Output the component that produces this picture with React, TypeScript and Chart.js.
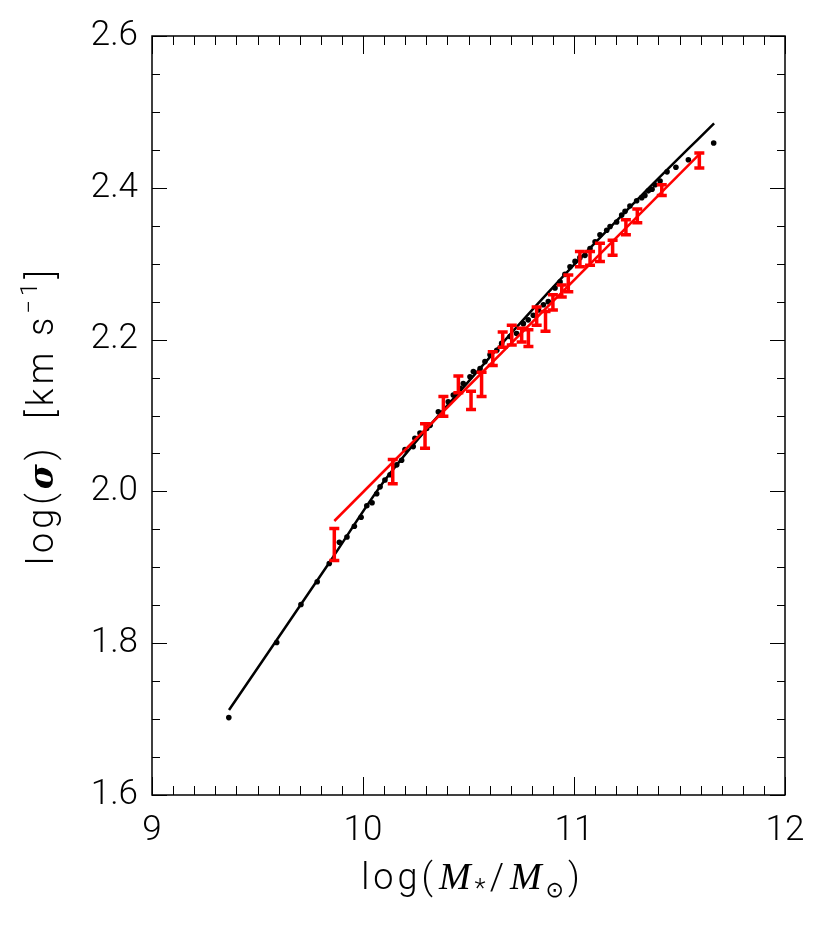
import { useEffect, useRef } from 'react';
import { Chart, registerables } from 'chart.js';

Chart.register(...registerables);

// Black points (running medians)
const blackX = [9.364, 9.591, 9.706, 9.783, 9.840, 9.888, 9.924, 9.959, 9.991, 10.018, 10.043, 10.065, 10.081, 10.104, 10.128, 10.160, 10.183, 10.199, 10.238, 10.246, 10.270, 10.302, 10.318, 10.357, 10.404, 10.428, 10.460, 10.475, 10.507, 10.523, 10.555, 10.578, 10.602, 10.634, 10.657, 10.697, 10.728, 10.760, 10.783, 10.807, 10.831, 10.855, 10.878, 10.910, 10.934, 10.957, 10.981, 11.005, 11.028, 11.052, 11.076, 11.100, 11.123, 11.155, 11.171, 11.202, 11.226, 11.242, 11.265, 11.297, 11.321, 11.336, 11.352, 11.370, 11.384, 11.408, 11.441, 11.483, 11.542, 11.662];
const blackY = [1.702, 1.801, 1.851, 1.881, 1.905, 1.933, 1.940, 1.954, 1.966, 1.981, 1.985, 1.997, 2.006, 2.015, 2.022, 2.035, 2.041, 2.055, 2.059, 2.070, 2.077, 2.083, 2.087, 2.105, 2.118, 2.127, 2.136, 2.142, 2.151, 2.158, 2.162, 2.171, 2.180, 2.186, 2.195, 2.204, 2.208, 2.221, 2.226, 2.232, 2.239, 2.246, 2.250, 2.268, 2.276, 2.286, 2.296, 2.303, 2.308, 2.311, 2.320, 2.329, 2.338, 2.344, 2.349, 2.355, 2.364, 2.369, 2.376, 2.383, 2.387, 2.390, 2.396, 2.398, 2.404, 2.409, 2.421, 2.427, 2.437, 2.459];

// Black fit curve
const blackFitX = [9.365, 9.84, 10.104, 10.507, 10.934, 11.313, 11.664];
const blackFitY = [1.712, 1.906, 2.015, 2.147, 2.279, 2.388, 2.485];

// Red binned points with errors
const redX = [9.864, 10.141, 10.294, 10.381, 10.452, 10.512, 10.562, 10.615, 10.662, 10.705, 10.752, 10.784, 10.823, 10.865, 10.900, 10.942, 10.973, 11.028, 11.076, 11.123, 11.183, 11.246, 11.300, 11.416, 11.594];
const redY = [1.930, 2.026, 2.073, 2.112, 2.141, 2.120, 2.141, 2.175, 2.200, 2.206, 2.206, 2.202, 2.231, 2.224, 2.249, 2.264, 2.274, 2.306, 2.307, 2.315, 2.321, 2.348, 2.363, 2.397, 2.436];
const redErr = [0.021, 0.016, 0.016, 0.013, 0.011, 0.012, 0.016, 0.009, 0.010, 0.013, 0.009, 0.011, 0.012, 0.013, 0.010, 0.008, 0.011, 0.010, 0.009, 0.012, 0.010, 0.010, 0.009, 0.007, 0.010];

// Red fit line
const redFitX = [9.864, 11.597];
const redFitY = [1.961, 2.445];

// Axis ranges / ticks
const xMin = 9, xMax = 12, xMajor = 1, xMinor = 0.1;
const yMin = 1.6, yMax = 2.6, yMajor = 0.2, yMinor = 0.05;

const SANS = 'Roboto, "Liberation Sans", Arial, sans-serif';
const SERIF = '"Liberation Serif", "DejaVu Serif", serif';

const framePlugin = {
  id: 'frameTicks',
  afterDraw(chart: any) {
    const { ctx, chartArea, scales } = chart;
    const { left, right, top, bottom } = chartArea;
    const xs = scales.x, ys = scales.y;
    ctx.save();
    ctx.strokeStyle = '#000';
    ctx.lineWidth = 1.5;
    ctx.strokeRect(left, top, right - left, bottom - top);
    ctx.lineWidth = 1;
    const nx = Math.round((xMax - xMin) / xMinor);
    const perMajX = Math.round(xMajor / xMinor);
    for (let i = 0; i <= nx; i++) {
      const px = Math.round(xs.getPixelForValue(xMin + i * xMinor)) + 0.5;
      const len = i % perMajX === 0 ? 18 : 9;
      ctx.beginPath();
      ctx.moveTo(px, bottom); ctx.lineTo(px, bottom - len);
      ctx.moveTo(px, top); ctx.lineTo(px, top + len);
      ctx.stroke();
    }
    const ny = Math.round((yMax - yMin) / yMinor);
    const perMajY = Math.round(yMajor / yMinor);
    for (let i = 0; i <= ny; i++) {
      const py = Math.round(ys.getPixelForValue(yMin + i * yMinor)) + 0.5;
      const len = i % perMajY === 0 ? 15 : 8;
      ctx.beginPath();
      ctx.moveTo(left, py); ctx.lineTo(left + len, py);
      ctx.moveTo(right, py); ctx.lineTo(right - len, py);
      ctx.stroke();
    }
    ctx.restore();
  },
};

const errorBarPlugin = {
  id: 'errorBars',
  afterDatasetsDraw(chart: any) {
    const { ctx, scales } = chart;
    const xs = scales.x, ys = scales.y;
    ctx.save();
    ctx.strokeStyle = '#ff0000';
    ctx.lineWidth = 3.5;
    for (let i = 0; i < redX.length; i++) {
      const px = xs.getPixelForValue(redX[i]);
      const y1 = ys.getPixelForValue(redY[i] - redErr[i]);
      const y2 = ys.getPixelForValue(redY[i] + redErr[i]);
      ctx.beginPath();
      ctx.moveTo(px, y1); ctx.lineTo(px, y2);
      ctx.moveTo(px - 5, y1); ctx.lineTo(px + 5, y1);
      ctx.moveTo(px - 5, y2); ctx.lineTo(px + 5, y2);
      ctx.stroke();
    }
    ctx.restore();
  },
};

type Piece = { t: string; font: string; dy?: number; gap?: number };

function drawPieces(ctx: CanvasRenderingContext2D, pieces: Piece[], cx: number, baseline: number) {
  let total = 0;
  const widths = pieces.map(p => { ctx.font = p.font; const w = ctx.measureText(p.t).width + (p.gap || 0); total += w; return w; });
  let x = cx - total / 2;
  pieces.forEach((p, i) => {
    ctx.font = p.font;
    ctx.fillText(p.t, x, baseline + (p.dy || 0));
    x += widths[i];
  });
}

const titlePlugin = {
  id: 'axisTitles',
  afterDraw(chart: any) {
    const { ctx, chartArea } = chart;
    const { left, right, top, bottom } = chartArea;
    ctx.save();
    ctx.fillStyle = '#000';
    ctx.textBaseline = 'alphabetic';
    ctx.textAlign = 'left';
    (ctx as any).letterSpacing = '4px';
    // x title
    drawPieces(ctx, [
      { t: 'log(', font: `300 36px ${SANS}`, gap: 2 },
      { t: 'M', font: `italic 38px ${SERIF}` },
      { t: '*', font: `300 26px ${SANS}`, dy: 8 },
      { t: '/', font: `300 36px ${SANS}`, gap: 2 },
      { t: 'M', font: `italic 38px ${SERIF}` },
      { t: '⊙', font: `22px "DejaVu Sans"`, dy: 8 },
      { t: ')', font: `300 36px ${SANS}` },
    ], (left + right) / 2 + 4, 889);
    // y title
    ctx.translate(53, (top + bottom) / 2);
    ctx.rotate(-Math.PI / 2);
    drawPieces(ctx, [
      { t: 'log(', font: `300 36px ${SANS}` },
      { t: 'σ', font: `bold italic 34px "DejaVu Serif"` },
      { t: ')  [km s', font: `300 36px ${SANS}` },
      { t: '−1', font: `300 24px ${SANS}`, dy: -16 },
      { t: ']', font: `300 36px ${SANS}` },
    ], 0, 0);
    ctx.restore();
  },
};

export default function App() {
  const ref = useRef<HTMLCanvasElement | null>(null);
  useEffect(() => {
    if (!ref.current) return;
    const chart = new Chart(ref.current, {
      type: 'scatter',
      data: {
        datasets: [
          {
            data: redFitX.map((x, i) => ({ x, y: redFitY[i] })),
            showLine: true,
            borderColor: '#ff0000',
            borderWidth: 2.5,
            pointRadius: 0,
            order: 0,
          },
          {
            data: blackX.map((x, i) => ({ x, y: blackY[i] })),
            showLine: false,
            backgroundColor: '#000',
            borderWidth: 0,
            pointRadius: 2.8,
            order: 1,
          },
          {
            data: blackFitX.map((x, i) => ({ x, y: blackFitY[i] })),
            showLine: true,
            borderColor: '#000',
            borderWidth: 2.5,
            pointRadius: 0,
            cubicInterpolationMode: 'monotone',
            order: 2,
          },
        ],
      } as any,
      options: {
        animation: false,
        responsive: false,
        layout: { padding: { top: 36, right: 45, left: 0, bottom: 0 } },
        plugins: { legend: { display: false }, tooltip: { enabled: false }, title: { display: false } },
        scales: {
          x: {
            type: 'linear',
            min: xMin,
            max: xMax,
            grid: { display: false, drawTicks: false },
            border: { display: false },
            ticks: {
              stepSize: xMajor,
              autoSkip: false,
              maxRotation: 0,
              padding: 15,
              color: '#000',
              font: { family: SANS, size: 35, weight: 300 },
              callback: (v: any) => String(Math.round(Number(v))),
            },
            afterFit: (s: any) => { s.height = 139; },
          },
          y: {
            type: 'linear',
            min: yMin,
            max: yMax,
            grid: { display: false, drawTicks: false },
            border: { display: false },
            ticks: {
              stepSize: yMajor,
              autoSkip: false,
              padding: 14,
              color: '#000',
              font: { family: SANS, size: 35, weight: 300 },
              callback: (v: any) => Number(v).toFixed(1),
            },
            afterFit: (s: any) => { s.width = 152; },
          },
        },
      } as any,
      plugins: [errorBarPlugin, framePlugin, titlePlugin],
    });
    return () => chart.destroy();
  }, []);
  return (
    <div style={{ position: 'absolute', left: 0, top: 0, width: 830, height: 934, background: '#fff' }}>
      <canvas ref={ref} width={830} height={934} style={{ display: 'block' }} />
    </div>
  );
}
